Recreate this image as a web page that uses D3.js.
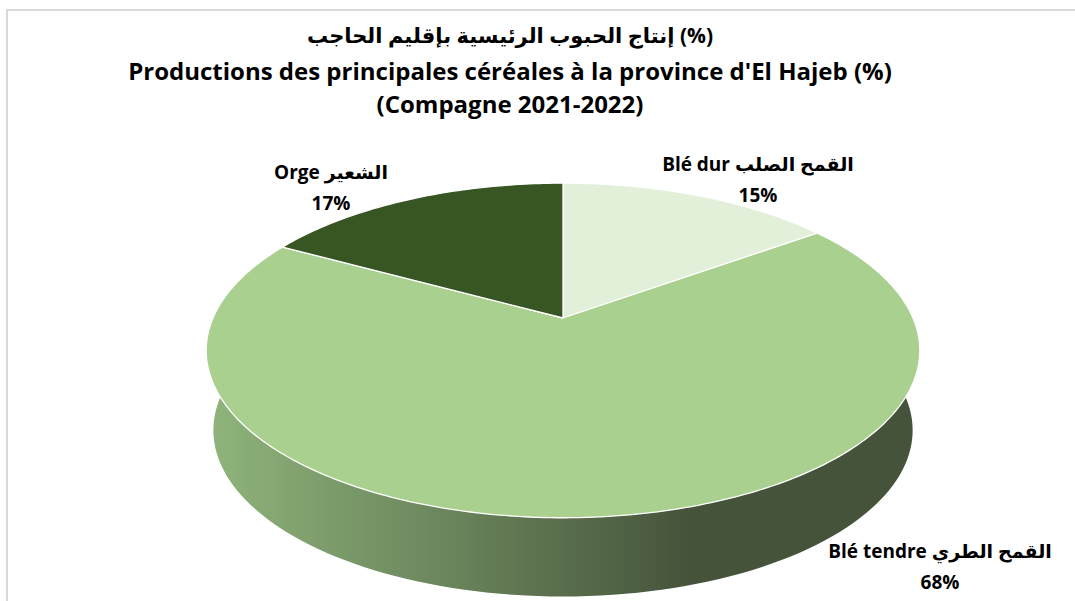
<!DOCTYPE html>
<html>
<head>
<meta charset="utf-8">
<script src="https://cdn.jsdelivr.net/npm/d3@7"></script>
<style>
  body { margin: 0; background: #fff; }
  text { font-family: "Open Sans", "DejaVu Sans", "Noto Sans", sans-serif; font-weight: bold; fill: #000; }
</style>
</head>
<body>
<div id="chart"></div>
<script>
// Data
var categories = ["Blé dur", "Blé tendre", "Orge"];
var labelsAr = ["القمح الصلب", "القمح الطري", "الشعير"];
var values = [15, 68, 17];
var colors = ["#e2efd9", "#a9d08e", "#375623"];
var titleLines = ["إنتاج الحبوب الرئيسية بإقليم الحاجب (%)",
                  "Productions des principales céréales à la province d'El Hajeb (%)",
                  "(Compagne 2021-2022)"];

var width = 1075, height = 601;

var svg = d3.select("#chart").append("svg")
    .attr("width", width)
    .attr("height", height);

// chart border
svg.append("rect")
    .attr("x", 7).attr("y", 10)
    .attr("width", 1100).attr("height", 620)
    .attr("fill", "none")
    .attr("stroke", "#d9d9d9")
    .attr("stroke-width", 2);

// Title
var titleY = [43, 80, 113];
var titleSize = ["21px", "24px", "24px"];
svg.selectAll(".title").data(titleLines).enter()
    .append("text")
    .attr("class", "title")
    .attr("x", 510)
    .attr("y", function(d, i) { return titleY[i]; })
    .attr("text-anchor", "middle")
    .style("font-size", function(d, i) { return titleSize[i]; })
    .text(function(d) { return d; });

// perspective projection of the pie disc
var cx = 563, cy = 318;
var k = -0.194;
function proj(theta, A, B, D) {
    var u = Math.sin(theta), v = -Math.cos(theta);
    var w = 1 + k * v;
    return [cx + A * u / w, cy + D + B * v / w];
}
function topP(t) { return proj(t, 350, 161, 0); }
function botP(t) { return proj(t, 343, 160, 80); }

var pie = d3.pie().sort(null).value(function(d) { return d; });
var arcs = pie(values);

// side gradient
var defs = svg.append("defs");
var grad = defs.append("linearGradient")
    .attr("id", "sideGrad")
    .attr("gradientUnits", "userSpaceOnUse")
    .attr("x1", 205).attr("x2", 925).attr("y1", 0).attr("y2", 0);
grad.append("stop").attr("offset", "0%").attr("stop-color", "#90b57c");
grad.append("stop").attr("offset", "68%").attr("stop-color", "#44533a");
grad.append("stop").attr("offset", "100%").attr("stop-color", "#44533a");

// side wall (front half, between extremes)
var tR = Math.acos(0.194), tL = 2 * Math.PI - Math.acos(0.194);
var sidePts = [];
var n = 120, i, t;
for (i = 0; i <= n; i++) { t = tR + (tL - tR) * i / n; sidePts.push(topP(t)); }
for (i = n; i >= 0; i--) { t = tR + (tL - tR) * i / n; sidePts.push(botP(t)); }
svg.append("path")
    .attr("d", d3.line()(sidePts) + "Z")
    .attr("fill", "url(#sideGrad)");

// top face slices
function slicePath(d) {
    var pts = [[cx, cy]];
    var steps = Math.max(4, Math.ceil((d.endAngle - d.startAngle) * 60));
    for (var j = 0; j <= steps; j++) {
        pts.push(topP(d.startAngle + (d.endAngle - d.startAngle) * j / steps));
    }
    return d3.line()(pts) + "Z";
}
svg.selectAll(".slice").data(arcs).enter()
    .append("path")
    .attr("class", "slice")
    .attr("d", slicePath)
    .attr("fill", function(d, i) { return colors[i]; })
    .attr("stroke", "#fff")
    .attr("stroke-width", 1.3)
    .attr("stroke-linejoin", "round");

// data labels
var labelPos = [[758, 171], [940, 558], [331, 179]];
var lab = svg.selectAll(".lab").data(arcs).enter()
    .append("g")
    .attr("class", "lab")
    .attr("transform", function(d, i) { return "translate(" + labelPos[i][0] + "," + labelPos[i][1] + ")"; });
lab.append("text")
    .attr("text-anchor", "middle")
    .style("font-size", "19px")
    .text(function(d, i) { return categories[i] + " " + labelsAr[i]; });
lab.append("text")
    .attr("text-anchor", "middle")
    .attr("y", 31)
    .style("font-size", "19px")
    .text(function(d) { return d.data + "%"; });
</script>
</body>
</html>
